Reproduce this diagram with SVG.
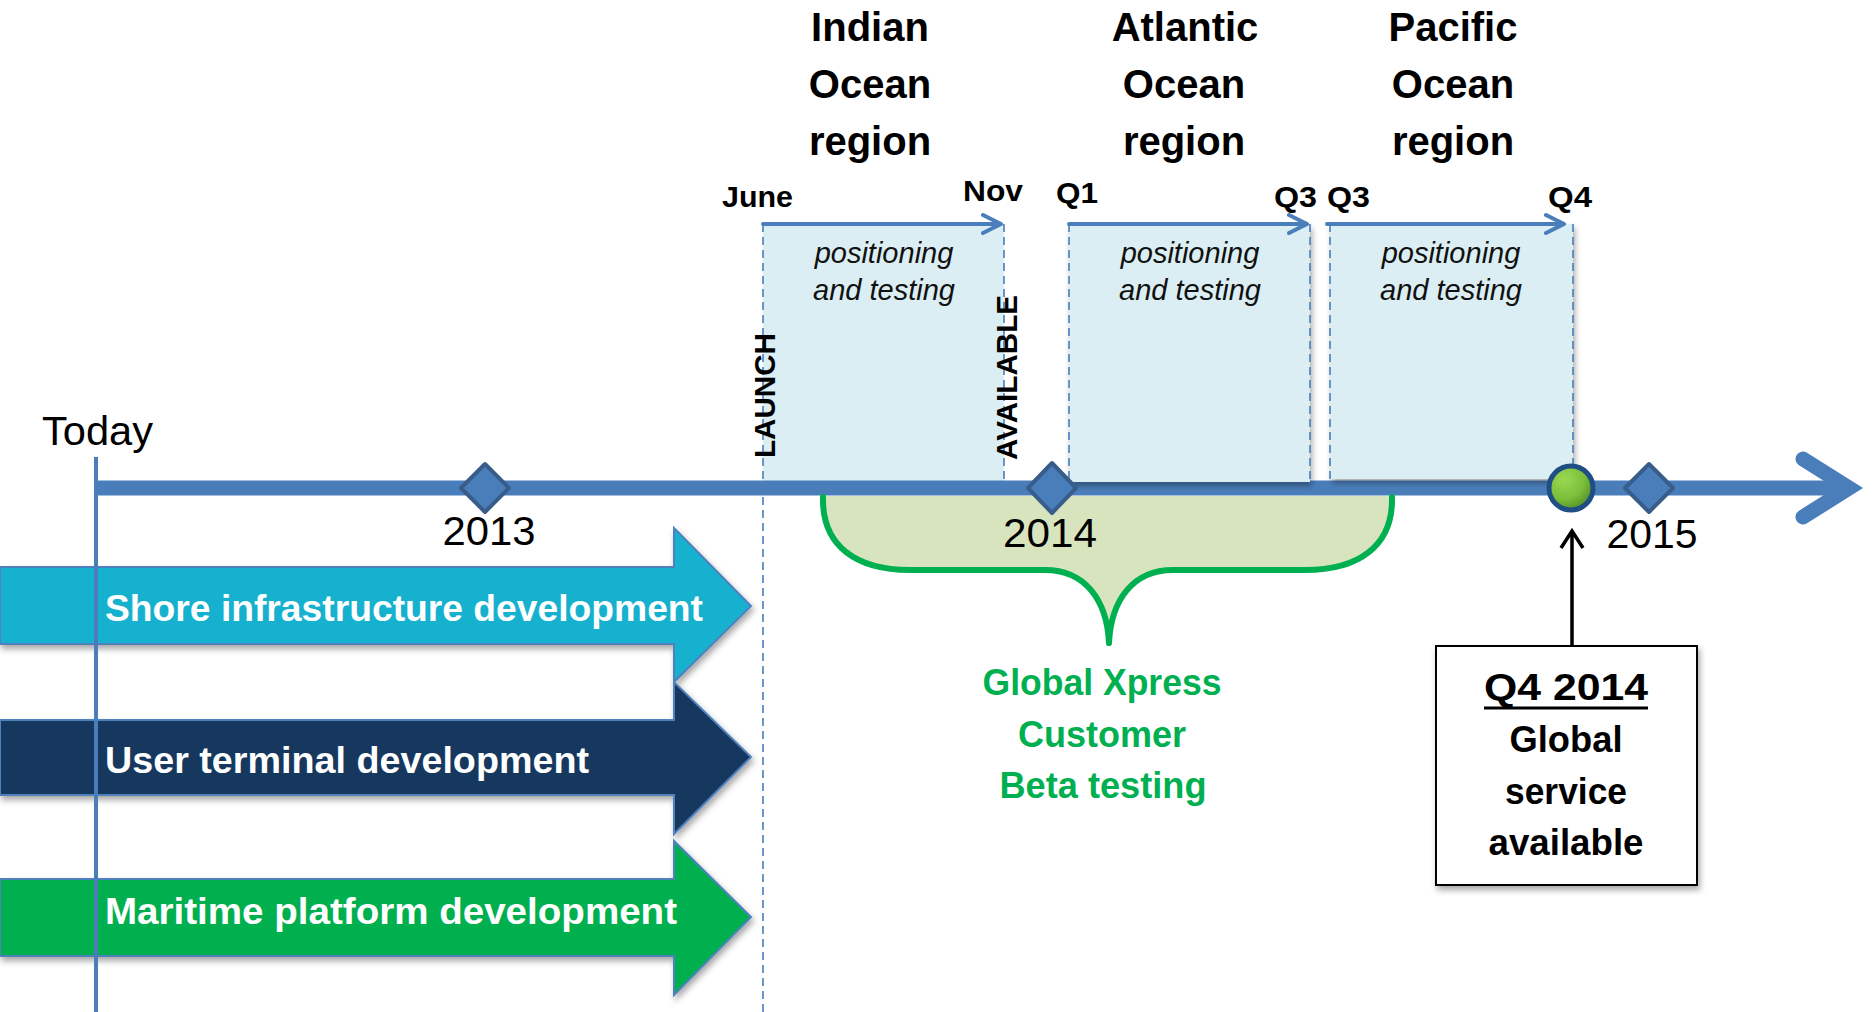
<svg xmlns="http://www.w3.org/2000/svg" width="1876" height="1012" viewBox="0 0 1876 1012">
<defs>
<filter id="sh" x="-10%" y="-10%" width="130%" height="140%">
<feDropShadow dx="2" dy="4" stdDeviation="3" flood-color="#000" flood-opacity="0.35"/>
</filter>
<radialGradient id="gg" cx="35%" cy="30%" r="75%">
<stop offset="0" stop-color="#9BD852"/>
<stop offset="0.6" stop-color="#7BBF3A"/>
<stop offset="1" stop-color="#4E8A25"/>
</radialGradient>
<style>
.t{font-family:"Liberation Sans",Arial,sans-serif;fill:#000}
.region{font-family:"Liberation Sans",Arial,sans-serif;font-weight:bold;font-size:40px;text-anchor:middle}
.mark{font-family:"Liberation Sans",Arial,sans-serif;font-weight:bold;font-size:30px}
.pt{font-family:"Liberation Sans",Arial,sans-serif;font-style:italic;font-size:29px;text-anchor:middle;fill:#111}
.yr{font-family:"Liberation Sans",Arial,sans-serif;font-size:40px;text-anchor:middle}
.dev{font-family:"Liberation Sans",Arial,sans-serif;font-weight:bold;font-size:37px;fill:#fff}
.gx{font-family:"Liberation Sans",Arial,sans-serif;font-weight:bold;font-size:36px;fill:#00B050;text-anchor:middle}
.bx{font-family:"Liberation Sans",Arial,sans-serif;font-weight:bold;font-size:36px;text-anchor:middle}
.box{fill:#DAEEF3}
.dash{stroke:#4A7EBB;stroke-width:1.6;stroke-dasharray:8 5;fill:none}
.tarrow{stroke:#4A7EBB;stroke-width:4;fill:none;stroke-linecap:round;stroke-linejoin:round}
.dia{fill:#4A7EBB;stroke:#385D8A;stroke-width:4;stroke-linejoin:round}
</style>
</defs>

<!-- shaded positioning boxes -->
<g id="box-indian">
<rect class="box" x="763" y="224" width="241" height="257"/>
<line class="dash" x1="1004" y1="224" x2="1004" y2="481"/>
</g>

<!-- timeline -->
<g id="timeline">
<line x1="96" y1="488" x2="1845" y2="488" stroke="#4A7EBB" stroke-width="15"/>
<path d="M1803,459 L1849,488 L1803,517" fill="none" stroke="#4A7EBB" stroke-width="15" stroke-linecap="round" stroke-linejoin="miter" stroke-miterlimit="6"/>
</g>

<g id="box-atlantic" filter="url(#sh)">
<rect class="box" x="1069" y="224" width="241" height="258"/>
</g>
<g id="box-pacific" filter="url(#sh)">
<rect class="box" x="1330" y="224" width="243" height="255"/>
</g>

<g id="box-edges">
<line class="dash" x1="1069" y1="224" x2="1069" y2="482"/>
<line class="dash" x1="1310" y1="224" x2="1310" y2="482"/>
<line class="dash" x1="1330" y1="224" x2="1330" y2="479"/>
<line class="dash" x1="1573" y1="224" x2="1573" y2="465"/>
</g>

<!-- launch dashed line -->
<line id="launch-line" class="dash" x1="763" y1="224" x2="763" y2="1012"/>

<!-- today line -->
<g id="today">
<line x1="96" y1="457" x2="96" y2="1012" stroke="#4A7EBB" stroke-width="4"/>
<text class="t" x="42" y="445" font-size="40" textLength="111" lengthAdjust="spacingAndGlyphs">Today</text>
</g>

<!-- brace -->
<g id="beta-brace">
<path d="M823,496 L823,500 C823,545 855,570 910,570 L1045,570 C1085,570 1107,600 1109,643 C1111,600 1133,570 1173,570 L1305,570 C1360,570 1392,545 1392,500 L1392,496 Z" fill="#D7E4BD"/>
<path d="M823,497 L823,500 C823,545 855,570 910,570 L1045,570 C1085,570 1107,600 1109,643 C1111,600 1133,570 1173,570 L1305,570 C1360,570 1392,545 1392,500 L1392,497" fill="none" stroke="#00B050" stroke-width="6" stroke-linecap="round" stroke-linejoin="round"/>
<text class="gx" x="1102" y="695" textLength="239" lengthAdjust="spacingAndGlyphs">Global Xpress</text>
<text class="gx" x="1102" y="747" textLength="168" lengthAdjust="spacingAndGlyphs">Customer</text>
<text class="gx" x="1103" y="798" textLength="207" lengthAdjust="spacingAndGlyphs">Beta testing</text>
</g>

<!-- milestones -->
<g id="m2013">
<path class="dia" d="M485,464 L509,488 L485,512 L461,488 Z"/>
<text class="yr" x="489" y="545" textLength="93" lengthAdjust="spacingAndGlyphs">2013</text>
</g>
<g id="m2014">
<path class="dia" d="M1052,463 L1076,488 L1052,513 L1028,488 Z"/>
<text class="yr" x="1050" y="547" textLength="94" lengthAdjust="spacingAndGlyphs">2014</text>
</g>
<g id="m2015">
<path class="dia" d="M1649,464 L1673,488 L1649,512 L1625,488 Z"/>
<text class="yr" x="1652" y="548" textLength="91" lengthAdjust="spacingAndGlyphs">2015</text>
</g>
<g id="global-service-dot">
<circle cx="1571" cy="488" r="22" fill="url(#gg)" stroke="#1F4E84" stroke-width="5"/>
</g>

<!-- development arrows -->
<g id="shore" filter="url(#sh)">
<path d="M0,567 L674,567 L674,528 L751,606 L674,682 L674,644 L0,644 Z" fill="#17B1CE" stroke="#4F81BD" stroke-width="2"/>
</g>
<g id="user">
<path d="M0,720 L674,720 L674,682 L751,757 L674,834 L674,795 L0,795 Z" fill="#17375E" stroke="#4F81BD" stroke-width="2" filter="url(#sh)"/>
</g>
<g id="maritime">
<path d="M0,879 L674,879 L674,841 L751,917 L674,995 L674,956 L0,956 Z" fill="#00B050" stroke="#4F81BD" stroke-width="2" filter="url(#sh)"/>
</g>
<line x1="96" y1="560" x2="96" y2="1012" stroke="#4A7EBB" stroke-width="4"/>
<text class="dev" x="105" y="621" textLength="598" lengthAdjust="spacingAndGlyphs">Shore infrastructure development</text>
<text class="dev" x="105" y="773" textLength="484" lengthAdjust="spacingAndGlyphs">User terminal development</text>
<text class="dev" x="105" y="924" textLength="572" lengthAdjust="spacingAndGlyphs">Maritime platform development</text>

<!-- region arrows and labels -->
<g id="connectors">
<path class="tarrow" d="M763,224 H1000 M983,215 L1001,224 L983,233"/>
<path class="tarrow" d="M1069,224 H1306 M1289,215 L1307,224 L1289,233"/>
<path class="tarrow" d="M1327,224 H1563 M1546,215 L1564,224 L1546,233"/>
<path d="M1572,646 V533 M1561,548 L1572,531 L1583,548" fill="none" stroke="#000" stroke-width="3.5" stroke-linejoin="miter"/>
</g>

<g id="indian">
<text class="region" x="870" y="41">Indian</text>
<text class="region" x="870" y="98">Ocean</text>
<text class="region" x="870" y="155">region</text>
<text class="pt" x="884" y="263">positioning</text>
<text class="pt" x="884" y="300">and testing</text>
</g>
<g id="atlantic">
<text class="region" x="1185" y="41">Atlantic</text>
<text class="region" x="1184" y="98">Ocean</text>
<text class="region" x="1184" y="155">region</text>
<text class="pt" x="1190" y="263">positioning</text>
<text class="pt" x="1190" y="300">and testing</text>
</g>
<g id="pacific">
<text class="region" x="1453" y="41">Pacific</text>
<text class="region" x="1453" y="98">Ocean</text>
<text class="region" x="1453" y="155">region</text>
<text class="pt" x="1451" y="263">positioning</text>
<text class="pt" x="1451" y="300">and testing</text>
</g>

<g id="period-labels">
<text class="mark" x="722" y="207" textLength="71" lengthAdjust="spacingAndGlyphs">June</text>
<text class="mark" x="963" y="201" textLength="60" lengthAdjust="spacingAndGlyphs">Nov</text>
<text class="mark" x="1056" y="203" textLength="42" lengthAdjust="spacingAndGlyphs">Q1</text>
<text class="mark" x="1274" y="207" textLength="43" lengthAdjust="spacingAndGlyphs">Q3</text>
<text class="mark" x="1327" y="207" textLength="43" lengthAdjust="spacingAndGlyphs">Q3</text>
<text class="mark" x="1548" y="207" textLength="44" lengthAdjust="spacingAndGlyphs">Q4</text>
</g>

<g id="launch">
<text class="mark" transform="translate(775,458) rotate(-90)" font-size="35" textLength="125" lengthAdjust="spacingAndGlyphs">LAUNCH</text>
</g>
<g id="available">
<text class="mark" transform="translate(1017,460) rotate(-90)" font-size="35" textLength="165" lengthAdjust="spacingAndGlyphs">AVAILABLE</text>
</g>

<g id="q4-box">
<rect x="1436" y="646" width="261" height="239" fill="#fff" stroke="#000" stroke-width="2" filter="url(#sh)"/>
<text class="bx" x="1566" y="700" font-size="41" textLength="164" lengthAdjust="spacingAndGlyphs">Q4 2014</text>
<line x1="1484" y1="708" x2="1648" y2="708" stroke="#000" stroke-width="3"/>
<text class="bx" x="1566" y="752" textLength="113" lengthAdjust="spacingAndGlyphs">Global</text>
<text class="bx" x="1566" y="804" textLength="122" lengthAdjust="spacingAndGlyphs">service</text>
<text class="bx" x="1566" y="855" textLength="155" lengthAdjust="spacingAndGlyphs">available</text>
</g>
</svg>
